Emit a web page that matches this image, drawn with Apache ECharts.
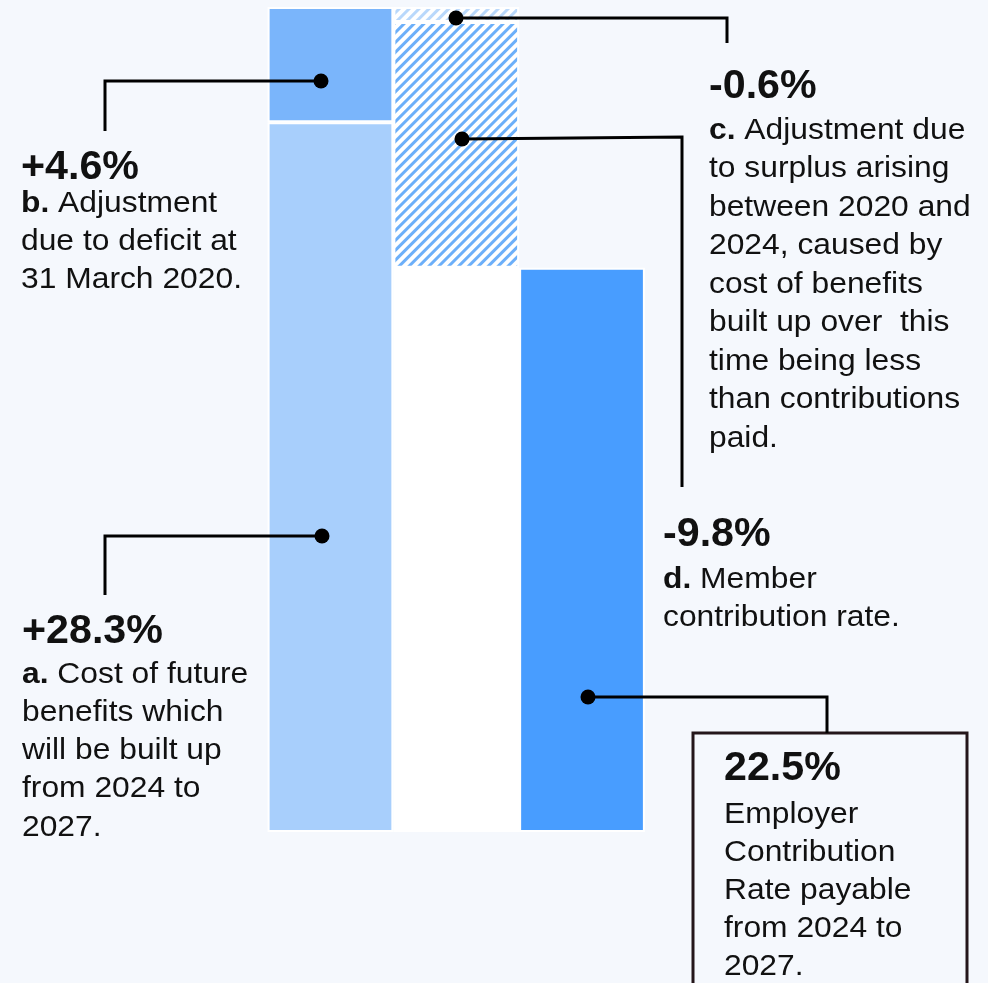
<!DOCTYPE html>
<html><head><meta charset="utf-8">
<script src="https://cdn.jsdelivr.net/npm/echarts@6/dist/echarts.min.js"></script>
<style>html,body{margin:0;padding:0;background:#f5f8fd;}#c{width:988px;height:983px;}</style>
</head><body><div id="c"></div>
<script>
// ---- data ----
const categories = ['Build-up', 'Adjustments', 'Employer rate'];
const stepKeys = ['a', 'b', 'c', 'd'];
const stepValues = [28.3, 4.6, -0.6, -9.8];
const totalValue = 22.5;
const descA = ['Cost of future', 'benefits which', 'will be built up', 'from 2024 to', '2027.'];
const descB = ['Adjustment', 'due to deficit at', '31 March 2020.'];
const descC = ['Adjustment due', 'to surplus arising', 'between 2020 and', '2024, caused by', 'cost of benefits', 'built up over  this', 'time being less', 'than contributions', 'paid.'];
const descD = ['Member', 'contribution rate.'];
const descTotal = ['Employer', 'Contribution', 'Rate payable', 'from 2024 to', '2027.'];

// ---- derived series (waterfall) ----
const peak = stepValues[0] + stepValues[1];
const base2 = stepValues.reduce((s, v) => s + v, 0);
const seriesA = [stepValues[0], '-', '-'];
const seriesB = [stepValues[1], '-', '-'];
const seriesBase = ['-', base2, '-'];
const seriesD = ['-', -stepValues[3], '-'];
const seriesC = ['-', -stepValues[2], '-'];
const seriesTotal = ['-', '-', totalValue];

// ---- styles ----
const FONT = "'Liberation Sans', Arial, Helvetica, sans-serif";
const INK = '#111111';
const BG = '#f5f8fd';
function fmt(v, signed) { return (signed && v > 0 ? '+' : '') + v.toFixed(1) + '%'; }

const chart = echarts.init(document.getElementById('c'), null, { renderer: 'canvas' });

function barSeries(name, data, color, extra) {
  return {
    name, type: 'bar', stack: 'w', data,
    barWidth: 125.75, barCategoryGap: '0%',
    itemStyle: Object.assign({ color, borderColor: '#ffffff', borderWidth: 2 }, (extra || {})),
    emphasis: { disabled: true }, silent: true, animation: false
  };
}
const hatch = (c) => ({ symbol: 'rect', symbolSize: 1, color: c, dashArrayX: [1, 0], dashArrayY: [2.6, 3.6], rotation: -Math.PI / 4 });

// ---- annotations ----
const notes = [
  { key: 'b', num: fmt(stepValues[1], true), lines: descB, x: 21, numBase: 182, firstBase: 214, lh: 38, pts: [[321, 81], [105, 81], [105, 131]] },
  { key: 'a', num: fmt(stepValues[0], true), lines: descA, x: 22, numBase: 646, firstBase: 685, lh: 38.2, pts: [[322, 536], [105, 536], [105, 595]] },
  { key: 'c', num: fmt(stepValues[2], true), lines: descC, x: 709, numBase: 101, firstBase: 141, lh: 38.5, pts: [[456, 18], [727, 18], [727, 43]] },
  { key: 'd', num: fmt(stepValues[3], true), lines: descD, x: 663, numBase: 549, firstBase: 590, lh: 38, pts: [[462, 139], [682, 137], [682, 487]] },
  { key: '', num: fmt(totalValue, false), lines: descTotal, x: 724, numBase: 783, firstBase: 825, lh: 38, pts: [[588, 697], [827, 697], [827, 733]] }
];

const graphic = [
  { type: 'rect', shape: { x: 693, y: 733, width: 274, height: 300 }, style: { fill: BG, stroke: '#24161a', lineWidth: 3 }, z: 5 }
];
notes.forEach(n => {
  graphic.push({ type: 'polyline', shape: { points: n.pts }, style: { stroke: '#000', lineWidth: 3, fill: null }, z: 20 });
  graphic.push({ type: 'circle', shape: { cx: n.pts[0][0], cy: n.pts[0][1], r: 7.5 }, style: { fill: '#000' }, z: 21 });
  graphic.push({ type: 'text', x: n.x, y: n.numBase - 0.3465 * 40, scaleX: 1.03, z: 22,
    style: { text: n.num, fontSize: 40, fontWeight: 'bold', fontFamily: FONT, fill: INK, align: 'left', verticalAlign: 'middle' } });
  const body = n.lines.map((l, i) => (i === 0 && n.key ? '{k|' + n.key + '.} ' + l : l)).join('\n');
  graphic.push({ type: 'text', x: n.x, y: n.firstBase - (n.lh / 2 + 0.3465 * 30), scaleX: 1.06, z: 22,
    style: { text: body, fontSize: 30, fontFamily: FONT, fill: INK, lineHeight: n.lh, align: 'left', verticalAlign: 'top',
      rich: { k: { fontSize: 30, fontWeight: 'bold', fontFamily: FONT, fill: INK, lineHeight: n.lh } } } });
});

chart.setOption({
  backgroundColor: BG,
  animation: false,
  grid: { left: 267.6, right: 343.1, top: 7, bottom: 151, containLabel: false },
  xAxis: { type: 'category', data: categories, show: false },
  yAxis: { type: 'value', min: 0, max: peak, show: false, splitLine: { show: false } },
  series: [
    barSeries('base', seriesBase, '#ffffff'),
    barSeries('a', seriesA, '#a8cffc'),
    barSeries('b', seriesB, '#7ab5fb'),
    barSeries('d', seriesD, '#ffffff', { decal: hatch('#6caff9') }),
    barSeries('c', seriesC, '#ffffff', { decal: hatch('#b9d8fb') }),
    barSeries('total', seriesTotal, '#489dff')
  ],
  graphic
});
</script></body></html>
